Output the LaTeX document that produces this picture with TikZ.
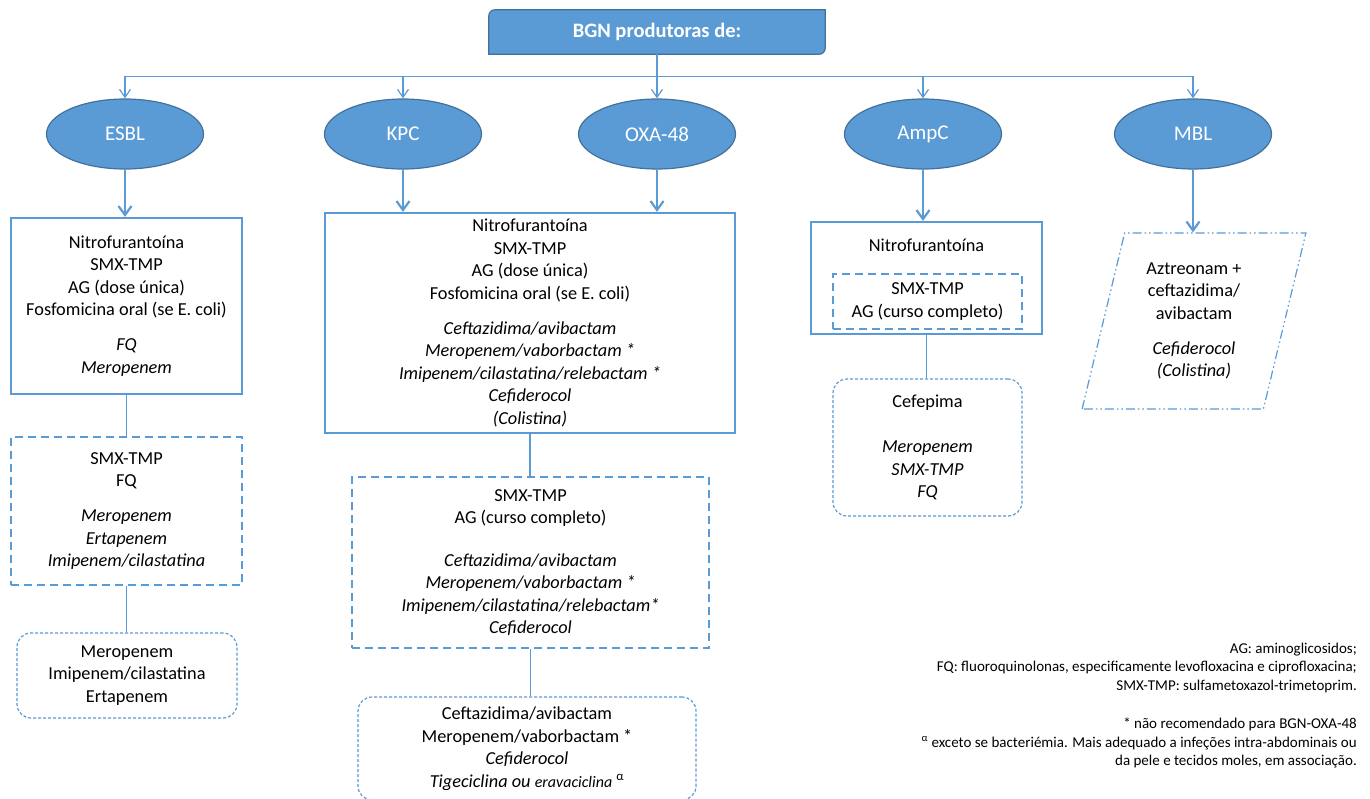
\documentclass[tikz,border=0pt]{standalone}
\usepackage{fontspec}
\setmainfont{Carlito}
\usetikzlibrary{arrows.meta,shapes.geometric}
\definecolor{boxblue}{HTML}{5B9BD5}
\definecolor{edgeblue}{HTML}{41719C}

\begin{document}
\begin{tikzpicture}[
        x = 1pt, y = -1pt, % one unit per pixel, y runs down
        > = {Straight Barb[length=9pt,width=13pt]}, % arrow head style
        every node/.style = {font=\fontsize{18.3}{22.5}\selectfont, align=center, inner sep=0pt},
        enzyme/.style = {ellipse, draw=edgeblue, line width=1.2pt, fill=boxblue, text=white,
            minimum width=157pt, minimum height=70pt, font=\fontsize{21}{25}\selectfont},
        firstline/.style = {rectangle, draw=boxblue, line width=2.2pt},
        secondline/.style = {rectangle, draw=boxblue, line width=2.2pt, dash pattern=on 8pt off 5pt},
        thirdline/.style = {rectangle, draw=boxblue, line width=1.2pt, rounded corners=14pt,
            dash pattern=on 3pt off 2pt},
        parabox/.style = {trapezium, trapezium left angle=76, trapezium right angle=104,
            trapezium stretches=true, draw=boxblue, line width=1.2pt,
            dash pattern=on 9pt off 3pt on 1.5pt off 3pt on 1.5pt off 3pt},
        feed/.style = {draw=boxblue, line width=1.2pt, -{Straight Barb[length=8pt,width=11pt]}},
        pick/.style = {draw=boxblue, line width=2.2pt, ->},
        link/.style = {draw=boxblue, line width=1.2pt},
    ]
    \path[use as bounding box, fill=white] (0,0) rectangle (1370,798);

    % title
    \node[minimum width=336pt, minimum height=44pt] (title) at (657,32) {};
    \path[fill=boxblue, draw=edgeblue, line width=1.2pt]
        (title.south west) -- ([yshift=-6pt]title.north west)
        arc[start angle=180, end angle=90, radius=6pt] -- (title.north east)
        -- ([yshift=6pt]title.south east)
        arc[start angle=0, end angle=-90, radius=6pt] -- cycle;
    \node[text=white, font=\bfseries\fontsize{20.5}{24}\selectfont] (titlelabel) at (title) {BGN produtoras de:};

    % enzymes
    \node[enzyme] (esbl) at (125,134) {ESBL};
    \node[enzyme] (kpc) at (403,134) {KPC};
    \node[enzyme] (oxa) at (657,134) {OXA-48};
    \node[enzyme] (ampc) at (923,134) {AmpC};
    \node[enzyme] (mbl) at (1193,134) {MBL};

    % ESBL column
    \node[firstline, minimum width=231pt, minimum height=176pt] (esblA) at (126.5,306)
        {Nitrofurantoína\\SMX-TMP\\AG (dose única)\\Fosfomicina oral (se E. coli)\\[12.5pt]%
         \textit{FQ}\\\textit{Meropenem}};
    \node[secondline, minimum width=231pt, minimum height=148pt] (esblB) at (126.5,511)
        {SMX-TMP\\FQ\\[12.5pt]\textit{Meropenem}\\\textit{Ertapenem}\\\textit{Imipenem/cilastatina}};
    \node[thirdline, minimum width=220pt, minimum height=85pt] (esblC) at (127,675.5)
        {Meropenem\\Imipenem/cilastatina\\Ertapenem};

    % KPC and OXA-48 column
    \node[firstline, minimum width=410pt, minimum height=220pt] (kpcA) at (530,323)
        {Nitrofurantoína\\SMX-TMP\\AG (dose única)\\Fosfomicina oral (se E. coli)\\[12.5pt]%
         \textit{Ceftazidima/avibactam}\\\textit{Meropenem/vaborbactam *}\\%
         \textit{Imipenem/cilastatina/relebactam *}\\\textit{Cefiderocol}\\\textit{(Colistina)}};
    \node[secondline, minimum width=357pt, minimum height=171pt] (kpcB) at (530.5,562.5)
        {SMX-TMP\\AG (curso completo)\\[20pt]%
         \textit{Ceftazidima/avibactam}\\\textit{Meropenem/vaborbactam *}\\%
         \textit{Imipenem/cilastatina/relebactam*}\\\textit{Cefiderocol}};
    \node[thirdline, minimum width=338pt, minimum height=103pt] (kpcC) at (527,748.5)
        {Ceftazidima/avibactam\\Meropenem/vaborbactam *\\\textit{Cefiderocol}\\%
         \textit{Tigeciclina ou {\fontsize{16}{20}\selectfont eravaciclina} \textsuperscript{\upshape α}}};

    % AmpC column
    \node[firstline, minimum width=231pt, minimum height=112pt] (ampcA) at (926.5,278) {};
    \node (ampcfirst) at (926.5,245) {Nitrofurantoína};
    \node[secondline, minimum width=189pt, minimum height=55pt] (ampcin) at (927.5,301.5)
        {SMX-TMP\\AG (curso completo)};
    \node[thirdline, minimum width=189pt, minimum height=137pt] (ampcB) at (927.5,447.5)
        {Cefepima\\[23pt]\textit{Meropenem}\\\textit{SMX-TMP}\\\textit{FQ}};

    % MBL column
    \node[parabox, minimum width=224pt, minimum height=176pt] (mblA) at (1194,321)
        {Aztreonam +\\ceftazidima/\\avibactam\\[12.5pt]\textit{Cefiderocol}\\\textit{(Colistina)}};

    % notes
    \node[anchor=east, align=right, font=\fontsize{15}{18.8}\selectfont] (notes) at (1357,705.5)
        {AG: aminoglicosidos;\\FQ: fluoroquinolonas, especificamente levofloxacina e ciprofloxacina;\\%
         SMX-TMP: sulfametoxazol-trimetoprim.\\[18.8pt]{*} não recomendado para BGN-OXA-48\\%
         \textsuperscript{α} exceto se bacteriémia. Mais adequado a infeções intra-abdominais ou\\%
         da pele e tecidos moles, em associação.};

    % connectors
    \draw[feed] (title.south) -- (oxa.north);
    \draw[feed] (title.south) -- ++(0,22) -| (esbl.north);
    \draw[feed] (title.south) -- ++(0,22) -| (kpc.north);
    \draw[feed] (title.south) -- ++(0,22) -| (ampc.north);
    \draw[feed] (title.south) -- ++(0,22) -| (mbl.north);

    \draw[pick] (esbl.south) -- (esbl.south |- esblA.north);
    \draw[pick] (kpc.south) -- (kpc.south |- kpcA.north);
    \draw[pick] (oxa.south) -- (oxa.south |- kpcA.north);
    \draw[pick] (ampc.south) -- (ampc.south |- ampcA.north);
    \draw[pick] (mbl.south) -- (mbl.south |- mblA.north);

    \draw[link] (esblA.south) -- (esblB.north);
    \draw[link] (esblB.south) -- (esblB.south |- esblC.north);
    \draw[link] (kpcA.south) -- (kpcA.south |- kpcB.north);
    \draw[link] (kpcB.south) -- (kpcB.south |- kpcC.north);
    \draw[link] (ampcA.south) -- (ampcA.south |- ampcB.north);
\end{tikzpicture}
\end{document}
